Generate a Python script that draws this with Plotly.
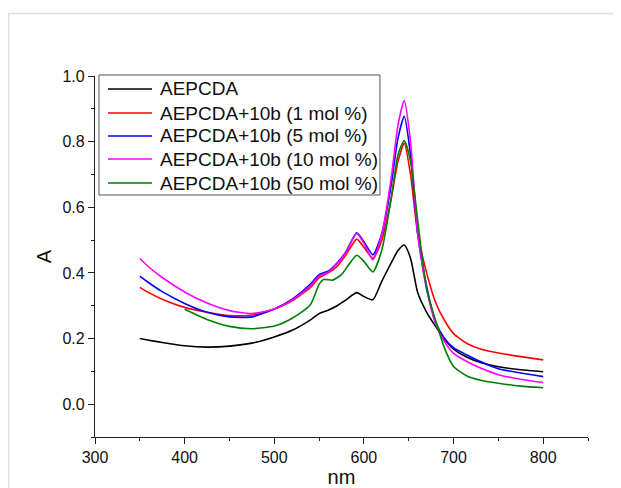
import plotly.graph_objects as go

# wavelengths (nm)
wl = [350, 360, 375, 400, 425, 450, 475, 500, 520, 540, 550, 560, 570, 580, 592,
      600, 610, 620, 630, 638, 645, 652, 660, 670, 680, 690, 700, 715, 730, 750, 775, 800]

aepcda = [0.200, 0.195, 0.188, 0.178, 0.174, 0.177, 0.186, 0.205, 0.225, 0.256, 0.276, 0.286,
          0.300, 0.318, 0.340, 0.328, 0.318, 0.375, 0.428, 0.468, 0.485, 0.445, 0.340, 0.280,
          0.237, 0.197, 0.168, 0.143, 0.127, 0.114, 0.105, 0.099]
mol1 = [0.356, 0.340, 0.320, 0.295, 0.280, 0.270, 0.272, 0.290, 0.315, 0.355, 0.385, 0.400,
        0.420, 0.455, 0.503, 0.478, 0.445, 0.500, 0.620, 0.740, 0.795, 0.700, 0.520, 0.400,
        0.310, 0.255, 0.215, 0.185, 0.168, 0.156, 0.145, 0.135]
mol5 = [0.390, 0.370, 0.343, 0.307, 0.280, 0.266, 0.266, 0.290, 0.320, 0.365, 0.395, 0.405,
        0.430, 0.465, 0.522, 0.495, 0.455, 0.520, 0.660, 0.810, 0.877, 0.760, 0.520, 0.360,
        0.250, 0.200, 0.172, 0.150, 0.130, 0.108, 0.095, 0.084]
mol10 = [0.444, 0.418, 0.386, 0.342, 0.308, 0.285, 0.276, 0.290, 0.318, 0.360, 0.390, 0.402,
         0.428, 0.462, 0.520, 0.490, 0.440, 0.520, 0.680, 0.850, 0.925, 0.800, 0.520, 0.350,
         0.245, 0.190, 0.155, 0.130, 0.110, 0.090, 0.076, 0.066]

wl_g = [400, 425, 450, 475, 500, 520, 540, 550, 555, 565, 575, 583, 592, 600, 610, 620, 630,
        638, 645, 652, 660, 670, 680, 690, 700, 715, 730, 750, 775, 800]
mol50 = [0.289, 0.258, 0.237, 0.230, 0.238, 0.262, 0.302, 0.365, 0.380, 0.378, 0.395, 0.425,
         0.454, 0.435, 0.403, 0.470, 0.620, 0.760, 0.803, 0.740, 0.560, 0.350, 0.255, 0.170,
         0.115, 0.086, 0.073, 0.064, 0.055, 0.050]

names = ["AEPCDA", "AEPCDA+10b (1 mol %)", "AEPCDA+10b (5 mol %)",
         "AEPCDA+10b (10 mol %)", "AEPCDA+10b (50 mol %)"]
colors = ["#000000", "#ff0000", "#0000ff", "#ff00ff", "#008000"]
xs = [wl, wl, wl, wl, wl_g]
ys = [aepcda, mol1, mol5, mol10, mol50]

fig = go.Figure()
for n, c, x, y in zip(names, colors, xs, ys):
    fig.add_trace(go.Scatter(x=x, y=y, mode="lines", name=n, showlegend=False,
                             line=dict(color=c, width=1.6, shape="spline", smoothing=0.6)))

axis_common = dict(showline=True, linecolor="#222", linewidth=1.3, showgrid=False,
                   zeroline=False, ticks="outside", ticklen=6, tickwidth=1.2, tickcolor="#222",
                   automargin=False,
                   tickfont=dict(family="Arial", size=16, color="#111"),
                   minor=dict(ticks="outside", ticklen=3, tickwidth=1.2, tickcolor="#222"))

fig.update_xaxes(range=[300, 850], dtick=100, tick0=300, minor_dtick=50,
                 title=dict(text="nm", font=dict(family="Arial", size=20, color="#111"), standoff=6),
                 **axis_common)
fig.update_yaxes(range=[-0.1, 1.0], dtick=0.2, tick0=0, tickformat=".1f", minor_dtick=0.1,
                 title=dict(text="A", font=dict(family="Arial", size=20, color="#111"), standoff=5),
                 **axis_common)

# legend drawn as box + line samples + text (paper coordinates)
shapes = [dict(type="rect", xref="paper", yref="paper",
               x0=-0.1755, y0=-0.2, x1=1.2, y1=1.173,
               line=dict(color="#dcdcdc", width=1.5), fillcolor="rgba(0,0,0,0)", layer="below"),
          dict(type="rect", xref="paper", yref="paper",
               x0=0.0081, y0=0.6704, x1=0.578, y1=1.0028,
               line=dict(color="#555", width=1), fillcolor="white", layer="above")]
annotations = []
row_y = [0.964, 0.8975, 0.8338, 0.770, 0.7036]
for n, c, yy in zip(names, colors, row_y):
    shapes.append(dict(type="line", xref="paper", yref="paper", x0=0.0264, x1=0.1156,
                       y0=yy, y1=yy, line=dict(color=c, width=1.5), layer="above"))
    annotations.append(dict(text=n, xref="paper", yref="paper", x=0.1278, y=yy,
                            xanchor="left", yanchor="middle", showarrow=False,
                            font=dict(family="Arial", size=19, color="#111")))

fig.update_layout(
    width=613, height=480,
    margin=dict(l=87, r=33, t=68, b=51),
    paper_bgcolor="white", plot_bgcolor="white",
    showlegend=False,
    shapes=shapes, annotations=annotations,
)

fig.write_html("out.html")
